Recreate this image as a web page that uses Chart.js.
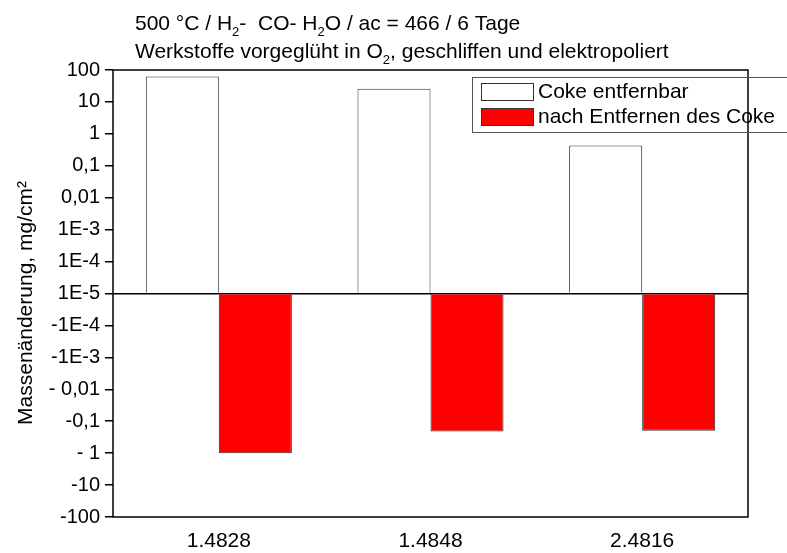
<!DOCTYPE html>
<html>
<head>
<meta charset="utf-8">
<script src="https://cdn.jsdelivr.net/npm/chart.js@4"></script>
<style>
  html, body { margin: 0; padding: 0; background: #fff; }
  #wrap { width: 787px; height: 553px; }
</style>
</head>
<body>
<div id="wrap"><canvas id="chart" width="787" height="553"></canvas></div>
<script>
const categories = ['1.4828', '1.4848', '2.4816']
const cokeRemovable = [63, 26, 0.43]
const afterRemoval = [-1.0, -0.21, -0.2]
const seriesNames = ['Coke entfernbar', 'nach Entfernen des Coke']
// tick labels from -7 .. 7 on the folded log scale (1E-5 sits at 0)
const yTickLabels = ['-100', '-10', '- 1', '-0,1', '- 0,01', '-1E-3', '-1E-4', '1E-5',
    '1E-4', '1E-3', '0,01', '0,1', '1', '10', '100']
const yTitle = 'Massenänderung, mg/cm²'

// title lines, second item of each part marks a subscript
const titleLines = [
    [['500 °C / H'], ['2', true], ['-  CO- H'], ['2', true], ['O / ac = 466 / 6 Tage']],
    [['Werkstoffe vorgeglüht in O'], ['2', true], [', geschliffen und elektropoliert']]
]

const FONT = 'Arial, "Liberation Sans", sans-serif'

// symmetric log: 1E-5 -> 0, 100 -> 7, -100 -> -7
const fold = v => Math.sign(v) * (Math.log10(Math.abs(v)) + 5)

const decorations = {
    id: 'decorations',
    afterDraw(chart) {
        const ctx = chart.ctx
        const area = chart.chartArea
        ctx.save()

        // frame
        ctx.strokeStyle = '#000'
        ctx.lineWidth = 1.5
        ctx.strokeRect(area.left, area.top, area.right - area.left, area.bottom - area.top)

        // title with subscripts
        ctx.fillStyle = '#000'
        ctx.textBaseline = 'alphabetic'
        const baselines = [30, 58]
        titleLines.forEach((parts, i) => {
            let x = 135
            parts.forEach(([text, sub]) => {
                ctx.font = (sub ? '13px ' : '21px ') + FONT
                ctx.fillText(text, x, baselines[i] + (sub ? 6 : 0))
                x += ctx.measureText(text).width
            })
        })

        // y axis title
        ctx.save()
        ctx.translate(32, 303)
        ctx.rotate(-Math.PI / 2)
        ctx.font = '21px ' + FONT
        ctx.textAlign = 'center'
        ctx.fillText(yTitle, 0, 0)
        ctx.restore()

        // legend
        ctx.lineWidth = 1
        ctx.strokeStyle = '#555'
        ctx.strokeRect(472.5, 77.5, 400, 55)
        const colors = ['#ffffff', '#ff0000']
        const swatchTop = [83, 108]
        ctx.font = '21px ' + FONT
        ctx.textBaseline = 'middle'
        seriesNames.forEach((name, i) => {
            ctx.fillStyle = colors[i]
            ctx.fillRect(481, swatchTop[i], 52, 17)
            ctx.strokeStyle = '#333'
            ctx.strokeRect(481.5, swatchTop[i] + 0.5, 52, 17)
            ctx.fillStyle = '#000'
            ctx.fillText(name, 538, swatchTop[i] + 9)
        })
        ctx.restore()
    }
}

new Chart(document.getElementById('chart'), {
    type: 'bar',
    data: {
        labels: categories,
        datasets: [{
            label: seriesNames[0],
            data: cokeRemovable.map(fold),
            backgroundColor: '#ffffff',
            borderColor: '#333',
            borderWidth: 1
        }, {
            label: seriesNames[1],
            data: afterRemoval.map(fold),
            backgroundColor: '#ff0000',
            borderColor: '#333',
            borderWidth: 1
        }]
    },
    options: {
        responsive: false,
        animation: false,
        layout: { padding: { top: 70, right: 39, left: 0, bottom: 0 } },
        plugins: {
            legend: { display: false },
            tooltip: { enabled: false }
        },
        datasets: {
            bar: { categoryPercentage: 0.69, barPercentage: 1 }
        },
        scales: {
            x: {
                grid: { display: false },
                border: { display: false },
                ticks: { color: '#000', font: { family: FONT, size: 21 }, padding: 4 },
                afterFit: scale => { scale.height = 36 }
            },
            y: {
                min: -7,
                max: 7,
                afterBuildTicks: scale => {
                    scale.ticks = yTickLabels.map((_, i) => ({ value: i - 7 }))
                },
                ticks: {
                    color: '#000',
                    font: { family: FONT, size: 20 },
                    padding: 5,
                    callback: value => yTickLabels[value + 7]
                },
                grid: {
                    drawOnChartArea: true,
                    color: c => c.tick && c.tick.value === 0 ? '#000' : 'rgba(0,0,0,0)',
                    lineWidth: 1.5,
                    tickColor: '#000',
                    tickLength: 8
                },
                border: { display: false },
                afterFit: scale => { scale.width = 113 }
            }
        }
    },
    plugins: [decorations]
})
</script>
</body>
</html>
